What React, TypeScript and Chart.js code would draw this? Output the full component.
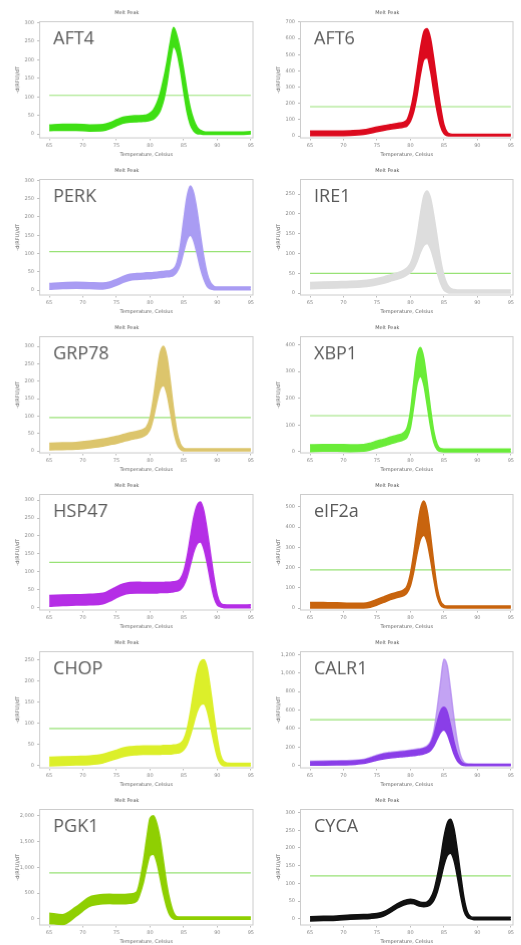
import React, { useEffect, useRef } from 'react';
import Chart from 'chart.js/auto';

// temperature grid shared by every melt curve (finer around the peaks)
const temps = [65, 67, 69, 71, 73, 74, 75, 76, 77, 78, 79, 79.5, 80, 80.5, 81, 81.5, 82, 82.5, 83, 83.5, 84, 84.5, 85, 85.5, 86, 86.5, 87, 87.5, 88, 88.5, 89, 89.5, 90, 90.5, 91, 92, 93.5, 95];

// upper / lower edge of the replicate bundle for each gene
const aft4High = [24, 26, 26, 24, 25, 30, 38, 45, 48, 49, 50, 51, 56, 65, 82, 108, 146, 192, 245, 287, 265, 225, 173, 116, 69, 38, 18, 10, 6, 5, 5, 5, 5, 5, 5, 5, 5, 6];
const aft4Low = [9, 10, 10, 8, 9, 14, 22, 29, 32, 33, 34, 35, 37, 40, 48, 62, 90, 135, 195, 235, 220, 175, 115, 60, 25, 8, 1, 0, -1, -1, -1, -1, -1, -1, -1, -1, -1, 0];

const aft6High = [30, 30, 30, 32, 37, 45, 55, 63, 70, 77, 85, 100, 160, 260, 400, 540, 640, 660, 600, 470, 320, 180, 70, 22, 12, 10, 10, 10, 10, 10, 10, 10, 10, 10, 10, 10, 10, 10];
const aft6Low = [2, 2, 2, 4, 10, 17, 27, 35, 42, 48, 55, 62, 90, 150, 250, 380, 470, 480, 400, 270, 150, 60, 15, 2, 0, 0, 0, 0, 0, 0, 0, 0, 0, 0, 0, 0, 0, 0];

const perkHigh = [18, 20, 21, 20, 19, 22, 29, 37, 43, 45, 46, 47, 47, 48, 49, 50, 51, 52, 53, 58, 75, 120, 190, 255, 285, 265, 215, 150, 90, 45, 20, 10, 8, 8, 8, 8, 8, 8];
const perkLow = [2, 4, 5, 4, 3, 6, 13, 21, 27, 29, 30, 31, 31, 32, 33, 34, 35, 36, 37, 40, 50, 70, 105, 138, 150, 135, 100, 60, 30, 10, 3, 1, 1, 1, 1, 1, 1, 1];

const ire1High = [27, 28, 29, 30, 32, 34, 37, 41, 46, 51, 58, 64, 75, 100, 145, 200, 245, 258, 240, 195, 140, 85, 45, 22, 12, 9, 8, 8, 8, 8, 8, 8, 8, 8, 8, 8, 8, 8];
const ire1Low = [11, 12, 13, 14, 16, 18, 21, 25, 30, 35, 41, 46, 52, 62, 80, 103, 120, 125, 112, 85, 52, 25, 8, 2, 0, 0, 0, 0, 0, 0, 0, 0, 0, 0, 0, 0, 0, 0];

const grp78High = [22, 23, 24, 28, 34, 38, 42, 47, 52, 56, 62, 70, 95, 150, 220, 280, 300, 270, 200, 120, 55, 20, 8, 6, 6, 6, 6, 6, 6, 6, 6, 6, 6, 6, 6, 6, 6, 6];
const grp78Low = [3, 4, 5, 9, 14, 18, 22, 27, 32, 36, 42, 48, 62, 95, 140, 178, 188, 165, 115, 60, 22, 5, 0, 0, 0, 0, 0, 0, 0, 0, 0, 0, 0, 0, 0, 0, 0, 0];

const xbp1High = [26, 27, 27, 26, 27, 32, 40, 47, 55, 62, 72, 90, 150, 260, 360, 390, 350, 260, 160, 75, 28, 12, 10, 10, 10, 10, 10, 10, 10, 10, 10, 10, 10, 10, 10, 10, 10, 10];
const xbp1Low = [1, 2, 2, 1, 2, 7, 15, 22, 30, 37, 45, 55, 90, 170, 255, 282, 250, 175, 95, 35, 8, 1, 0, 0, 0, 0, 0, 0, 0, 0, 0, 0, 0, 0, 0, 0, 0, 0];

const hsp47High = [34, 35, 36, 37, 40, 48, 58, 66, 70, 71, 70, 70, 70, 70, 70, 70, 70, 71, 71, 72, 74, 80, 100, 140, 195, 250, 285, 295, 270, 215, 150, 85, 35, 12, 8, 7, 7, 8];
const hsp47Low = [4, 6, 7, 8, 11, 18, 28, 36, 40, 41, 41, 41, 41, 41, 41, 42, 42, 42, 43, 44, 46, 50, 62, 85, 120, 155, 178, 183, 165, 125, 75, 30, 8, 2, 0, 0, 0, 0];

const eif2aHigh = [28, 27, 26, 24, 24, 30, 42, 55, 68, 78, 90, 110, 170, 270, 390, 490, 528, 480, 360, 220, 100, 35, 14, 10, 10, 10, 10, 10, 10, 10, 10, 10, 10, 10, 10, 10, 10, 10];
const eif2aLow = [0, 0, 0, 0, 0, 4, 15, 28, 42, 52, 62, 75, 110, 180, 270, 340, 360, 325, 240, 140, 55, 15, 2, 0, 0, 0, 0, 0, 0, 0, 0, 0, 0, 0, 0, 0, 0, 0];

const chopHigh = [20, 21, 22, 23, 27, 32, 37, 42, 45, 46, 47, 47, 47, 47, 47, 47, 48, 48, 48, 49, 50, 53, 62, 85, 125, 175, 220, 245, 250, 230, 180, 120, 65, 25, 10, 6, 6, 6];
const chopLow = [0, 1, 2, 3, 7, 12, 17, 22, 25, 26, 27, 27, 27, 27, 27, 27, 28, 28, 28, 29, 30, 32, 38, 50, 72, 100, 128, 143, 146, 130, 95, 55, 22, 5, 0, 0, 0, 0];

const calr1High = [50, 52, 55, 58, 70, 90, 115, 135, 145, 152, 160, 165, 170, 175, 180, 185, 195, 215, 260, 380, 620, 900, 1150, 1080, 820, 520, 270, 110, 40, 20, 16, 15, 15, 15, 15, 15, 15, 15];
const calr1Dense = [40, 42, 45, 48, 60, 80, 105, 125, 135, 142, 150, 155, 160, 165, 170, 175, 185, 200, 240, 330, 470, 590, 630, 580, 430, 260, 130, 50, 20, 15, 14, 14, 14, 14, 14, 14, 14, 14];
const calr1Low = [5, 6, 8, 12, 25, 42, 60, 75, 85, 92, 98, 102, 106, 110, 115, 120, 128, 140, 165, 215, 290, 360, 385, 340, 240, 130, 55, 15, 3, 0, 0, 0, 0, 0, 0, 0, 0, 0];

const pgk1High = [110, 80, 230, 420, 470, 475, 470, 470, 480, 520, 1100, 1550, 1950, 2000, 1850, 1550, 1100, 650, 330, 120, 40, 35, 35, 35, 35, 35, 35, 35, 35, 35, 35, 35, 35, 35, 35, 35, 35, 35];
const pgk1Low = [-90, -110, 50, 240, 290, 295, 290, 290, 300, 340, 700, 1000, 1230, 1250, 1100, 800, 480, 220, 60, 0, -10, -10, -10, -10, -10, -10, -10, -10, -10, -10, -10, -10, -10, -10, -10, -10, -10, -10];

const cycaHigh = [6, 7, 8, 11, 12, 13, 15, 20, 30, 42, 51, 54, 55, 54, 50, 47, 46, 48, 58, 80, 120, 170, 230, 270, 281, 255, 195, 125, 60, 20, 6, 4, 4, 4, 4, 4, 4, 4];
const cycaLow = [-6, -5, -4, -1, 0, 1, 3, 8, 18, 30, 39, 42, 43, 42, 38, 35, 34, 35, 40, 52, 75, 110, 150, 178, 185, 165, 120, 65, 22, 4, 0, -3, -3, -3, -3, -3, -3, -3];

// threshold line per gene
const thresholds = [104, 180, 105, 50, 96, 135, 126, 189, 88, 496, 890, 121];
const geneNames = ['AFT4', 'AFT6', 'PERK', 'IRE1', 'GRP78', 'XBP1', 'HSP47', 'eIF2a', 'CHOP', 'CALR1', 'PGK1', 'CYCA'];

interface Panel {
  name: string;
  color: string;
  topColor?: string;
  high: number[];
  low: number[];
  dense?: number[];
  threshold: number;
  yMin: number;
  yMax: number;
  step: number;
}

const panels: Panel[] = [
  { name: geneNames[0], color: '#3fdf14', high: aft4High, low: aft4Low, threshold: thresholds[0], yMin: -12, yMax: 304, step: 50 },
  { name: geneNames[1], color: '#dc0a1e', high: aft6High, low: aft6Low, threshold: thresholds[1], yMin: -15, yMax: 706, step: 100 },
  { name: geneNames[2], color: '#a99cf3', high: perkHigh, low: perkLow, threshold: thresholds[2], yMin: -15, yMax: 304, step: 50 },
  { name: geneNames[3], color: '#dddddd', high: ire1High, low: ire1Low, threshold: thresholds[3], yMin: -6, yMax: 288, step: 50 },
  { name: geneNames[4], color: '#dcc56c', high: grp78High, low: grp78Low, threshold: thresholds[4], yMin: -7, yMax: 329, step: 50 },
  { name: geneNames[5], color: '#6aec38', high: xbp1High, low: xbp1Low, threshold: thresholds[5], yMin: -6, yMax: 432, step: 100 },
  { name: geneNames[6], color: '#b52ee6', high: hsp47High, low: hsp47Low, threshold: thresholds[6], yMin: -8, yMax: 317, step: 50 },
  { name: geneNames[7], color: '#c8640e', high: eif2aHigh, low: eif2aLow, threshold: thresholds[7], yMin: -12, yMax: 563, step: 100 },
  { name: geneNames[8], color: '#dcef2a', high: chopHigh, low: chopLow, threshold: thresholds[8], yMin: -6, yMax: 270, step: 50 },
  { name: geneNames[9], color: '#8a3ee8', topColor: 'rgba(180, 140, 240, 0.8)', high: calr1High, low: calr1Low, dense: calr1Dense, threshold: thresholds[9], yMin: -29, yMax: 1236, step: 200 },
  { name: geneNames[10], color: '#8fcf02', high: pgk1High, low: pgk1Low, threshold: thresholds[10], yMin: -130, yMax: 2130, step: 500 },
  { name: geneNames[11], color: '#111111', high: cycaHigh, low: cycaLow, threshold: thresholds[11], yMin: -19, yMax: 310, step: 50 },
];

const smallFont = { size: 5, family: '"DejaVu Sans", sans-serif', weight: 'normal' as const };
const axisGray = '#8a8a8a';

const plotBox = {
  id: 'plotBox',
  beforeDatasetsDraw(chart: Chart) {
    const { ctx, chartArea } = chart;
    ctx.save();
    ctx.strokeStyle = '#cccccc';
    ctx.lineWidth = 1;
    ctx.strokeRect(chartArea.left + 0.5, chartArea.top + 0.5, chartArea.right - chartArea.left - 1, chartArea.bottom - chartArea.top - 1);
    ctx.restore();
  },
};

const geneLabel = (name: string) => ({
  id: 'geneLabel',
  afterDatasetsDraw(chart: Chart) {
    const { ctx, chartArea } = chart;
    ctx.save();
    ctx.font = '18px "Open Sans"';
    ctx.fillStyle = '#5a5a5a';
    ctx.textBaseline = 'alphabetic';
    ctx.fillText(name, chartArea.left + 14, chartArea.top + 23);
    ctx.restore();
  },
});

const MeltPanel: React.FC<{ panel: Panel }> = ({ panel }) => {
  const canvasRef = useRef<HTMLCanvasElement>(null);

  useEffect(() => {
    if (!canvasRef.current) return;

    const band = (data: number[], fill: string | boolean, bg: string, borderColor: string) => ({
      data,
      borderColor,
      backgroundColor: bg,
      borderWidth: 1.5,
      fill,
      order: 1,
    });

    const datasets: any[] = [
      {
        data: [{ x: 65, y: panel.threshold }, { x: 95, y: panel.threshold }],
        borderColor: '#98e276',
        borderWidth: 1.2,
        fill: false,
        order: 10,
      },
      band(panel.low, false, panel.color, panel.color),
    ];
    if (panel.dense) {
      datasets.push(band(panel.dense, '-1', panel.color, panel.color));
      datasets.push(band(panel.high, '-1', panel.topColor || panel.color, panel.topColor || panel.color));
    } else {
      datasets.push(band(panel.high, '-1', panel.color, panel.color));
    }

    const chart = new Chart(canvasRef.current, {
      type: 'line',
      data: { labels: temps, datasets },
      options: {
        animation: false,
        responsive: true,
        maintainAspectRatio: false,
        layout: { padding: { left: 0, right: 8, top: 0, bottom: 0 } },
        elements: {
          point: { radius: 0 },
          line: { cubicInterpolationMode: 'monotone' },
        },
        plugins: {
          legend: { display: false },
          tooltip: { enabled: false },
          title: {
            display: true,
            text: 'Melt Peak',
            color: '#555555',
            font: smallFont,
            padding: { top: 10, bottom: 5 },
          },
        },
        scales: {
          x: {
            type: 'linear',
            min: 63.5,
            max: 95.4,
            afterFit: (scale: any) => { scale.height = 20; },
            ticks: { stepSize: 5, includeBounds: false, color: axisGray, font: smallFont, padding: 2, maxRotation: 0 },
            grid: { drawOnChartArea: false, tickLength: 2, color: '#bbbbbb' },
            border: { display: false },
            title: { display: true, text: 'Temperature, Celsius', color: '#666666', font: smallFont, padding: { top: 0, bottom: 1 } },
          },
          y: {
            min: panel.yMin,
            max: panel.yMax,
            afterFit: (scale: any) => { scale.width = 39; },
            afterBuildTicks: (scale: any) => {
              const ticks = [];
              for (let v = 0; v <= panel.yMax; v += panel.step) ticks.push({ value: v });
              scale.ticks = ticks;
            },
            ticks: { color: axisGray, font: smallFont, padding: 3 },
            grid: { drawOnChartArea: false, tickLength: 2, color: '#bbbbbb' },
            border: { display: false },
            title: { display: true, text: '-d(RFU)/dT', color: '#666666', font: smallFont, padding: { top: 15, bottom: 0 } },
          },
        },
      },
      plugins: [plotBox, geneLabel(panel.name)],
    });

    return () => {
      chart.destroy();
    };
  }, [panel]);

  return (
    <div style={{ position: 'relative', width: '100%', height: '100%', minWidth: 0, minHeight: 0, overflow: 'hidden' }}>
      <canvas ref={canvasRef}></canvas>
    </div>
  );
};

export default function App() {
  return (
    <div
      style={{
        position: 'absolute',
        left: 0,
        top: 0,
        width: 521,
        height: 945,
        background: '#ffffff',
        display: 'grid',
        gridTemplateColumns: 'repeat(2, minmax(0, 1fr))',
        gridTemplateRows: 'repeat(6, minmax(0, 1fr))',
      }}
    >
      {panels.map((p) => (
        <MeltPanel key={p.name} panel={p} />
      ))}
    </div>
  );
}
